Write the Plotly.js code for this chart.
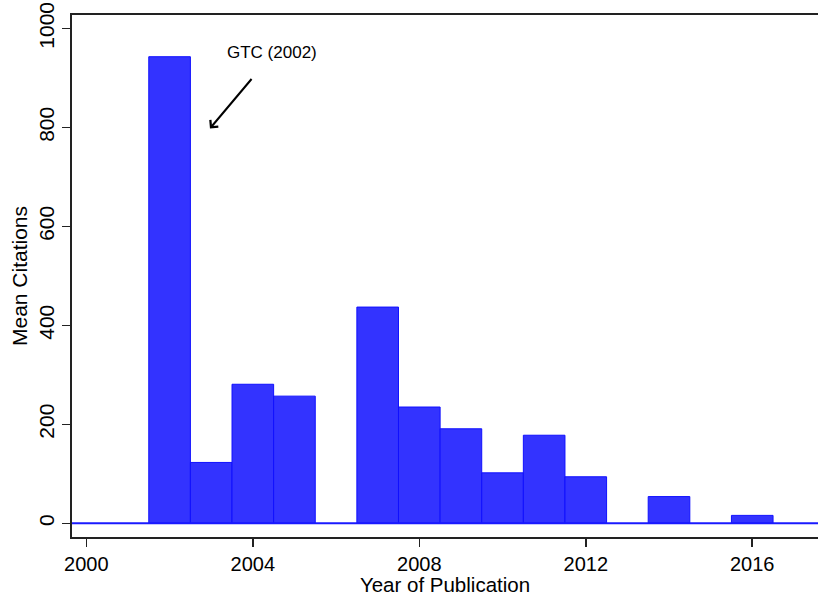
<!DOCTYPE html>
<html>
<head>
<meta charset="utf-8">
<script src="https://cdn.plot.ly/plotly-3.0.1.min.js"></script>
<style>html,body{margin:0;padding:0;background:#fff;}#chart{width:818px;height:596px;}</style>
</head>
<body>
<div id="chart"></div>
<script>
const years = [2002, 2003, 2004, 2005, 2007, 2008, 2009, 2010, 2011, 2012, 2014, 2016];
const meanCitations = [943, 123, 281, 257, 437, 235, 191, 102, 178, 94, 54, 16];
const xTickVals = [2000, 2004, 2008, 2012, 2016];
const yTickVals = [0, 200, 400, 600, 800, 1000];
const annotationText = "GTC (2002)";

const FONT = "Liberation Sans, Arial, Helvetica, sans-serif";

const trace = {
  type: "bar",
  x: years,
  y: meanCitations,
  width: 1,
  marker: { color: "#3333ff", line: { color: "#1010ff", width: 1 } },
  hoverinfo: "x+y"
};

const layout = {
  width: 818,
  height: 596,
  margin: { l: 72, r: 0, t: 15, b: 59 },
  paper_bgcolor: "#ffffff",
  plot_bgcolor: "#ffffff",
  showlegend: false,
  bargap: 0,
  font: { family: FONT, color: "#000000" },
  xaxis: {
    range: [1999.655, 2017.58],
    tickvals: xTickVals,
    ticktext: xTickVals.map(String),
    ticks: "outside",
    ticklen: 8,
    tickwidth: 1.5,
    tickcolor: "#222",
    showline: true,
    linecolor: "#222",
    linewidth: 2,
    mirror: true,
    showgrid: false,
    zeroline: false,
    tickfont: { family: FONT, size: 20, color: "#000" },
    title: { text: "Year of Publication", font: { family: FONT, size: 20.5, color: "#000" }, standoff: 2 }
  },
  yaxis: {
    range: [-27.7, 1027.3],
    tickvals: yTickVals,
    ticktext: yTickVals.map(String),
    tickangle: -90,
    ticks: "outside",
    ticklen: 8,
    tickwidth: 1.5,
    tickcolor: "#222",
    showline: true,
    linecolor: "#222",
    linewidth: 2,
    showgrid: false,
    zeroline: false,
    tickfont: { family: FONT, size: 21, color: "#000" },
    title: { text: "Mean Citations", font: { family: FONT, size: 21, color: "#000" }, standoff: 1 }
  },
  shapes: [
    { type: "line", xref: "paper", x0: 0, x1: 1, yref: "y", y0: 0, y1: 0,
      line: { color: "#1a1aff", width: 2 } }
  ],
  annotations: [
    { x: 2002.97, y: 798, xref: "x", yref: "y", axref: "x", ayref: "y",
      ax: 2004.0, ay: 901, text: "", showarrow: true, arrowhead: 4,
      arrowsize: 1, arrowwidth: 2, arrowcolor: "#000" },
    { x: 2004.46, y: 951, xref: "x", yref: "y", text: annotationText, showarrow: false,
      font: { family: FONT, size: 17, color: "#000" } }
  ]
};

Plotly.newPlot("chart", [trace], layout, { displayModeBar: false, staticPlot: true });
</script>
</body>
</html>
